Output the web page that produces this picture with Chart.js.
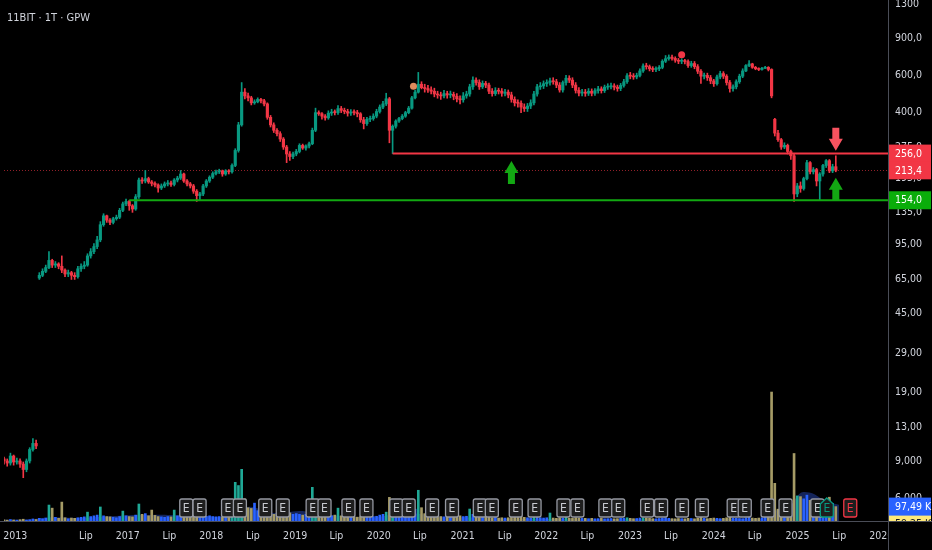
<!DOCTYPE html>
<html>
<head>
<meta charset="utf-8">
<script src="https://cdn.jsdelivr.net/npm/chart.js@4.4.1/dist/chart.umd.min.js"></script>
<style>
  html, body { margin: 0; padding: 0; background: #000; }
  #wrap { width: 932px; height: 550px; position: relative; }
</style>
</head>
<body>
<div id="wrap"><canvas id="myChart"></canvas></div>
<script>
// one candle = 2 weeks, x axis counts weeks. first 11 candles are the 2013 stretch
const opens = [
  9.2,9.0,8.8,9.5,8.9,9.0,8.7,8.2,9.0,10.2,10.9,
  66,68,71,74,80,76,77,75,72,69,
  70,68,67,73,75,76,84,88,93,100,
  118,130,124,121,126,128,138,148,152,145,
  140,160,192,190,195,188,185,182,176,180,
  184,186,183,192,196,205,190,184,180,170,
  162,165,180,190,198,206,210,212,205,212,
  210,225,265,350,500,480,470,445,450,462,
  455,440,380,350,330,318,300,275,255,248,
  255,262,280,272,278,285,330,400,395,385,
  378,398,402,400,418,410,405,398,402,400,
  395,370,355,372,375,385,405,425,440,465,
  330,345,365,375,385,400,420,470,500,545,
  525,520,512,505,490,485,480,492,485,488,
  478,465,460,480,490,530,570,555,530,550,
  540,505,492,508,505,494,500,485,462,445,
  443,425,418,430,445,490,530,535,548,556,
  565,560,540,512,555,582,570,540,510,495,
  500,494,505,494,508,518,508,528,530,535,
  528,520,538,560,598,595,590,600,630,665,
  660,645,640,645,655,700,720,732,722,708,
  700,700,698,668,683,660,628,595,600,585,
  565,548,590,612,595,555,520,530,560,595,
  630,668,680,655,645,640,648,655,640,372,
  320,298,275,280,262,250,165,180,175,195,
  232,210,215,190,205,225,237,212,222
];
const highs = [
  9.4,9.2,9.8,9.6,9.3,9.2,8.9,9.2,10.4,11.5,11.3,
  70,73,76,88,81,79,78,84,73,72,
  71,70,75,77,79,86,91,96,104,122,
  133,131,126,128,131,141,151,156,154,147,
  164,196,197,213,198,191,188,184,184,188,
  191,190,195,200,213,207,193,187,183,173,
  168,183,193,201,210,214,216,214,215,215,
  229,270,360,555,520,495,478,460,470,468,
  462,445,388,358,336,325,305,280,262,260,
  268,285,284,282,290,338,420,408,400,392,
  408,415,412,432,428,420,415,414,412,410,
  400,380,380,385,395,415,435,452,494,472,
  350,370,380,392,406,428,478,510,620,560,
  545,538,530,522,505,500,510,505,506,500,
  492,480,498,505,545,590,585,572,565,562,
  552,520,525,522,520,515,512,500,475,460,
  455,440,442,460,505,545,555,565,572,582,
  585,575,555,565,600,598,585,555,525,515,
  515,520,518,520,532,530,540,548,552,548,
  540,550,575,612,620,612,615,645,680,685,
  672,660,658,668,712,745,750,748,735,722,
  720,715,710,700,698,675,640,615,615,600,
  575,602,628,625,605,568,542,572,608,645,
  675,705,685,662,652,656,662,660,645,376,
  330,302,288,284,266,255,185,188,198,238,
  235,220,218,208,228,240,240,228,250
];
const lows = [
  8.7,8.5,8.6,8.6,8.7,8.4,7.5,8.0,8.8,10.0,10.3,
  65,67,70,73,74,74,73,70,67,67,
  65,65,66,71,73,75,82,86,91,98,
  116,121,118,119,124,126,136,145,138,135,
  138,157,185,186,185,180,178,168,173,177,
  180,179,180,188,193,187,180,176,166,152,
  155,162,177,187,195,203,206,200,202,205,
  207,222,260,345,465,455,435,438,445,445,
  430,372,342,322,310,292,268,232,238,242,
  250,258,268,266,272,282,325,388,372,368,
  372,388,390,392,400,395,385,388,390,382,
  360,335,348,362,368,378,398,418,432,288,
  256,338,360,370,380,395,415,465,495,518,
  500,498,490,475,468,462,470,468,470,460,
  450,440,448,468,478,515,540,515,520,525,
  492,478,482,490,478,480,470,448,430,425,
  400,405,405,418,435,478,515,520,532,540,
  545,525,500,500,540,555,525,495,480,480,
  478,482,480,482,495,495,498,515,518,512,
  505,508,528,550,578,575,578,590,620,642,
  630,625,625,632,645,690,708,708,692,682,
  682,680,655,655,645,612,550,578,568,548,
  532,540,578,580,540,500,505,518,550,585,
  625,660,648,638,632,635,645,630,470,310,
  292,268,270,255,240,152,160,168,172,192,
  205,205,180,154,200,220,208,208,210
];
const closes = [
  9.0,8.8,9.5,8.9,9.0,8.7,8.2,9.0,10.2,10.9,10.6,
  68,71,74,80,76,77,75,72,69,70,
  68,67,73,75,76,84,88,93,100,118,
  130,124,121,126,128,138,148,152,145,140,
  160,192,190,195,188,185,182,176,180,184,
  186,183,192,196,205,190,184,180,170,162,
  165,180,190,198,206,210,212,205,212,210,
  225,265,350,500,480,470,445,450,462,455,
  440,380,350,330,318,300,275,255,248,255,
  262,280,272,278,285,330,400,395,385,378,
  398,402,400,418,410,405,398,402,400,395,
  370,355,372,375,385,405,425,440,465,330,
  345,365,375,385,400,420,470,500,545,525,
  520,512,505,490,485,480,492,485,488,478,
  465,460,480,490,530,570,555,530,550,540,
  505,492,508,505,494,500,485,462,445,443,
  425,418,430,445,490,530,535,548,556,565,
  560,540,512,555,582,570,540,510,495,500,
  494,505,494,508,518,508,528,530,535,528,
  520,538,560,598,595,590,600,630,665,660,
  645,640,645,655,700,720,732,722,708,700,
  700,698,668,683,660,628,595,600,585,565,
  548,590,612,595,555,520,530,560,595,630,
  668,680,655,645,640,648,655,640,480,320,
  298,275,280,262,250,165,180,175,195,232,
  210,215,190,205,225,237,212,222,213.4
];
// volume in thousands of shares
const volumes = [
  8,6,10,7,6,9,12,7,9,14,10,
  18,15,20,108,87,25,18,128,22,15,
  20,18,22,25,28,60,30,35,40,95,
  35,30,28,25,22,30,67,35,30,28,
  40,115,45,50,35,74,38,30,28,25,
  30,28,74,35,40,30,28,25,30,35,
  28,30,32,35,30,28,30,26,28,35,
  60,262,240,350,150,90,85,121,70,60,
  70,55,50,45,48,60,65,70,55,45,
  50,45,40,45,50,228,120,60,45,40,
  38,35,40,87,35,30,28,30,28,26,
  30,35,28,25,30,32,40,45,60,160,
  100,60,45,40,45,50,70,80,208,90,
  50,40,35,30,28,30,28,25,26,28,
  30,35,30,32,81,45,35,30,28,26,
  25,22,24,20,22,20,22,25,28,26,
  30,25,22,20,28,26,22,20,22,54,
  20,18,22,20,25,20,18,22,20,18,
  18,16,18,15,16,18,15,16,17,15,
  16,18,20,22,18,16,17,20,22,20,
  18,16,15,17,20,22,18,16,15,17,
  16,15,18,17,15,18,25,18,16,18,
  20,18,16,18,22,25,20,18,17,16,
  22,25,20,18,20,22,25,40,873,255,
  80,60,55,50,120,457,170,165,150,175,
  140,120,100,95,90,110,161,120,97.49
];
// volume average, one point every 8 weeks
const volumeMA = [
  8,8,10,20,25,22,20,25,30,35,
  40,40,42,40,35,30,30,28,45,95,
  80,55,60,68,60,45,35,28,25,25,
  40,55,50,40,30,25,25,20,18,16,
  15,15,14,13,12,12,11,11,12,12,
  12,13,13,12,12,12,13,13,14,15,
  70,80,190,185,130,110
];
const volumeMAValue = 59.25;

const tickLabels = ['2013','Lip','2017','Lip','2018','Lip','2019','Lip','2020','Lip','2021',
                    'Lip','2022','Lip','2023','Lip','2024','Lip','2025','Lip','2026'];
const tickWeeks = [7, 51, 77, 103, 129, 155, 181.3, 207, 233.4, 259, 285.6,
                   311.8, 337.7, 363.3, 389.8, 415.4, 442, 467.5, 494.1, 520.1, 546.3];
const priceTicks = [6, 9, 13, 19, 29, 45, 65, 95, 135, 195, 275, 400, 600, 900, 1300];

// earnings dates (week index)
const earningsWeeks = [113.5, 121.8, 139.5, 146.9, 162.7, 173.6, 192.2, 199.6, 214.5, 225.7,
                       244.3, 252, 266.6, 279, 296.3, 303.8, 318.7, 330.4, 348.4, 357.1,
                       374.5, 382.5, 400.5, 409.2, 422.2, 434.6, 454.4, 461.3, 475.5, 486.7, 506.5];
const earningsLastWeek = 512.4;
const earningsNextWeek = 527;

// event dots
const eventWeeks = [255, 422];
const eventValues = [533, 752];

const resistance = 256;
const support = 154;

const FONT = "'DejaVu Sans Condensed', 'Liberation Sans Narrow', Roboto, sans-serif";
const UP = '#089981', DOWN = '#f23645';
const TEXT = '#d1d4dc';

const weeks = closes.map((_, i) => i * 2);
const candleColors = closes.map((c, i) => c >= opens[i] ? UP : DOWN);
const volColors = volumes.map((v, i) => {
    if (closes[i] < opens[i]) return '#a59b66';
    const ma = volumeMA[Math.min(volumeMA.length - 1, Math.floor(i / 4))];
    return v > ma * 1.8 ? '#1fa896' : '#2962ff';
});

function fmt(v) {
    const s = v >= 1000 ? v.toFixed(0) : v >= 100 ? v.toFixed(1) : v >= 10 ? v.toFixed(2) : v.toFixed(3);
    return s.replace('.', ',');
}

function eBox(ctx, x, top, stroke, color, house) {
    const w = 13, h = 18;
    ctx.beginPath();
    if (house) {
        ctx.moveTo(x - w / 2, top + 5);
        ctx.lineTo(x, top - 1);
        ctx.lineTo(x + w / 2, top + 5);
    } else {
        ctx.moveTo(x - w / 2, top + 2);
        ctx.quadraticCurveTo(x - w / 2, top, x - w / 2 + 2, top);
        ctx.lineTo(x + w / 2 - 2, top);
        ctx.quadraticCurveTo(x + w / 2, top, x + w / 2, top + 2);
    }
    ctx.lineTo(x + w / 2, top + h - 2);
    ctx.quadraticCurveTo(x + w / 2, top + h, x + w / 2 - 2, top + h);
    ctx.lineTo(x - w / 2 + 2, top + h);
    ctx.quadraticCurveTo(x - w / 2, top + h, x - w / 2, top + h - 2);
    ctx.closePath();
    ctx.fillStyle = '#1e1e1e';
    ctx.fill();
    ctx.lineWidth = 1.3;
    ctx.strokeStyle = stroke;
    ctx.stroke();
    ctx.fillStyle = color;
    ctx.font = '12px ' + FONT;
    ctx.textAlign = 'center';
    ctx.textBaseline = 'middle';
    ctx.fillText('E', x, top + h / 2 + 1);
}

function arrow(ctx, x, tipY, dir, color) {
    // dir 1 = pointing down, -1 = pointing up
    const hw = 7, sw = 3.5, hh = 12, len = 23;
    ctx.beginPath();
    ctx.moveTo(x, tipY);
    ctx.lineTo(x - hw, tipY - dir * hh);
    ctx.lineTo(x - sw, tipY - dir * hh);
    ctx.lineTo(x - sw, tipY - dir * len);
    ctx.lineTo(x + sw, tipY - dir * len);
    ctx.lineTo(x + sw, tipY - dir * hh);
    ctx.lineTo(x + hw, tipY - dir * hh);
    ctx.closePath();
    ctx.fillStyle = color;
    ctx.fill();
}

function priceBox(ctx, y, text, bg, fg, clipBottom) {
    ctx.save();
    if (clipBottom) {
        ctx.beginPath();
        ctx.rect(888, 0, 44, clipBottom);
        ctx.clip();
    }
    ctx.fillStyle = bg;
    ctx.fillRect(889, y - 9, 42, 18);
    ctx.fillStyle = fg;
    ctx.font = '10.5px ' + FONT;
    ctx.textAlign = 'left';
    ctx.textBaseline = 'middle';
    ctx.fillText(text, 895, y + 0.5);
    ctx.restore();
}

const overlay = {
    id: 'overlay',
    beforeDatasetsDraw(chart) {
        const { ctx, chartArea: a, scales: { y } } = chart;
        const py = Math.round(y.getPixelForValue(closes[closes.length - 1])) + 0.5;
        ctx.save();
        ctx.strokeStyle = 'rgba(242,54,69,0.6)';
        ctx.lineWidth = 1;
        ctx.setLineDash([1, 2]);
        ctx.beginPath();
        ctx.moveTo(a.left, py);
        ctx.lineTo(a.right, py);
        ctx.stroke();
        ctx.restore();
    },
    afterDatasetsDraw(chart) {
        const { ctx, chartArea: a, scales: { x, y } } = chart;
        ctx.save();
        // support / resistance
        ctx.lineWidth = 2;
        ctx.strokeStyle = '#f23645';
        ctx.beginPath();
        ctx.moveTo(x.getPixelForValue(242), y.getPixelForValue(resistance));
        ctx.lineTo(a.right, y.getPixelForValue(resistance));
        ctx.stroke();
        ctx.strokeStyle = '#12a812';
        ctx.beginPath();
        ctx.moveTo(x.getPixelForValue(78), y.getPixelForValue(support));
        ctx.lineTo(a.right, y.getPixelForValue(support));
        ctx.stroke();

        arrow(ctx, x.getPixelForValue(518), y.getPixelForValue(264), 1, '#f7525f');
        arrow(ctx, x.getPixelForValue(518), y.getPixelForValue(197), -1, '#13a813');
        arrow(ctx, x.getPixelForValue(316), y.getPixelForValue(236), -1, '#13a813');

        // earnings
        earningsWeeks.forEach(w => eBox(ctx, x.getPixelForValue(w), 499, '#9598a1', '#c9cbd1', false));
        eBox(ctx, x.getPixelForValue(earningsLastWeek), 499, UP, UP, true);
        eBox(ctx, x.getPixelForValue(earningsNextWeek), 499, '#f23645', '#f23645', false);
        ctx.restore();
    },
    afterDraw(chart) {
        const { ctx, chartArea: a, scales: { y, yv } } = chart;
        ctx.save();
        // hide the x label running into the price scale
        ctx.fillStyle = '#000';
        ctx.fillRect(a.right + 1, a.bottom + 1, chart.width - a.right, chart.height - a.bottom);
        ctx.strokeStyle = '#4a4d57';
        ctx.lineWidth = 1;
        ctx.beginPath();
        ctx.moveTo(a.right + 0.5, 0);
        ctx.lineTo(a.right + 0.5, chart.height);
        ctx.moveTo(0, a.bottom + 0.5);
        ctx.lineTo(chart.width, a.bottom + 0.5);
        ctx.stroke();

        priceBox(ctx, y.getPixelForValue(resistance), fmt(resistance), '#f23645', '#fff');
        priceBox(ctx, y.getPixelForValue(closes[closes.length - 1]), fmt(closes[closes.length - 1]), '#f23645', '#fff');
        priceBox(ctx, y.getPixelForValue(support), fmt(support), '#0aad0a', '#fff');
        const vy = yv.getPixelForValue(volumes[volumes.length - 1]);
        priceBox(ctx, vy + 17, fmt(volumeMAValue) + ' K', '#ffe97a', '#131722', a.bottom);
        priceBox(ctx, vy, fmt(volumes[volumes.length - 1]) + ' K', '#2962ff', '#fff');

        ctx.fillStyle = TEXT;
        ctx.font = '11px ' + FONT;
        ctx.textAlign = 'left';
        ctx.textBaseline = 'alphabetic';
        ctx.fillText('11BIT · 1T · GPW', 7, 21);
        ctx.restore();
    }
};

Chart.defaults.font.family = FONT;
Chart.defaults.font.size = 10.5;

const ctx = document.getElementById('myChart');

new Chart(ctx, {
    type: 'bar',
    data: {
        datasets: [{
            type: 'scatter',
            data: eventWeeks.map((w, i) => ({ x: w, y: eventValues[i] })),
            pointRadius: 3.5,
            pointBackgroundColor: ['#e08a5c', '#f23645'],
            pointBorderWidth: 0,
            yAxisID: 'y',
            order: 0
        }, {
            data: weeks.map((w, i) => ({ x: w, y: [opens[i], closes[i]] })),
            backgroundColor: candleColors,
            barThickness: 2.5,
            minBarLength: 1,
            grouped: false,
            yAxisID: 'y',
            order: 1
        }, {
            data: weeks.map((w, i) => ({ x: w, y: [lows[i], highs[i]] })),
            backgroundColor: candleColors,
            barThickness: 1,
            grouped: false,
            yAxisID: 'y',
            order: 2
        }, {
            data: weeks.map((w, i) => ({ x: w, y: volumes[i] })),
            backgroundColor: volColors,
            barThickness: 2,
            grouped: false,
            yAxisID: 'yv',
            order: 3
        }, {
            type: 'line',
            data: volumeMA.map((v, i) => ({ x: i * 8, y: v })),
            borderWidth: 0,
            pointRadius: 0,
            fill: 'origin',
            backgroundColor: 'rgba(33,60,150,0.6)',
            tension: 0.3,
            yAxisID: 'yv',
            order: 4
        }]
    },
    options: {
        responsive: true,
        maintainAspectRatio: false,
        animation: false,
        events: [],
        layout: { padding: 0 },
        plugins: {
            legend: { display: false },
            tooltip: { enabled: false }
        },
        scales: {
            x: {
                type: 'linear',
                min: 0,
                max: 550.5,
                offset: false,
                grid: { display: false, drawTicks: false },
                border: { display: false },
                ticks: {
                    autoSkip: false,
                    maxRotation: 0,
                    padding: 9,
                    color: TEXT,
                    callback: (v, i) => tickLabels[i]
                },
                afterBuildTicks: s => { s.ticks = tickWeeks.map(v => ({ value: v })); },
                afterFit: s => { s.height = 29; s.paddingLeft = 0; s.paddingRight = 0; }
            },
            y: {
                type: 'logarithmic',
                position: 'right',
                min: 4.68,
                max: 1306,
                grid: { display: false, drawTicks: false },
                border: { display: false },
                ticks: {
                    autoSkip: false,
                    padding: 7,
                    color: TEXT,
                    callback: v => fmt(v)
                },
                afterBuildTicks: s => { s.ticks = priceTicks.map(v => ({ value: v })); },
                afterFit: s => { s.width = 44; s.paddingTop = 0; s.paddingBottom = 0; }
            },
            yv: {
                type: 'linear',
                display: false,
                min: 0,
                max: 3500
            }
        }
    },
    plugins: [overlay]
});
</script>
</body>
</html>
